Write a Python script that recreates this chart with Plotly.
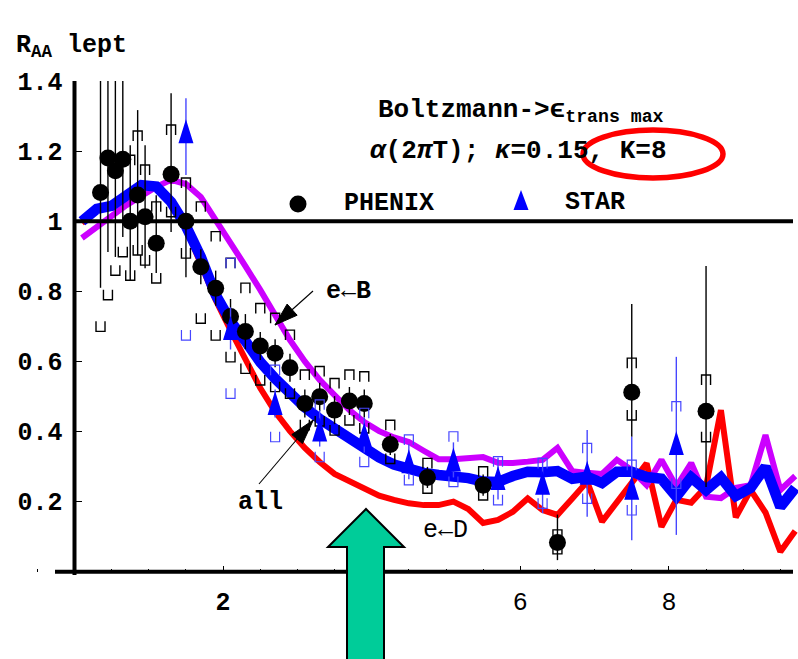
import plotly.graph_objects as go

# ---------------------------------------------------------------- data
pt_grid = [0.1, 0.3, 0.5, 0.7, 0.9, 1.1, 1.3, 1.5, 1.7, 1.9, 2.1, 2.3, 2.5, 2.7, 2.9,
           3.1, 3.3, 3.5, 3.7, 3.9, 4.1, 4.3, 4.5, 4.7, 4.9, 5.1, 5.3, 5.5, 5.7, 5.9,
           6.1, 6.3, 6.5, 6.7, 6.9, 7.1, 7.3, 7.5, 7.7, 7.9, 8.1, 8.3, 8.5, 8.7, 8.9,
           9.1, 9.3, 9.5, 9.7]

raa_all = [1.0, 1.035, 1.044, 1.07, 1.103, 1.099, 1.055, 0.986, 0.898, 0.79, 0.715, 0.658,
           0.598, 0.551, 0.509, 0.469, 0.436, 0.407, 0.377, 0.349, 0.326, 0.306, 0.292,
           0.282, 0.276, 0.273, 0.267, 0.257, 0.256, 0.273, 0.285, 0.284, 0.287, 0.265,
           0.271, 0.253, 0.285, 0.285, 0.27, 0.265, 0.214, 0.269, 0.233, 0.269, 0.216,
           0.239, 0.299, 0.185, 0.239]

raa_eB = [0.952, 0.983, 1.019, 1.046, 1.072, 1.098, 1.118, 1.106, 1.069, 1.005, 0.941, 0.872,
          0.804, 0.73, 0.661, 0.6, 0.547, 0.504, 0.461, 0.427, 0.401, 0.383, 0.37, 0.345,
          0.321, 0.321, 0.324, 0.327, 0.311, 0.31, 0.314, 0.319, 0.353, 0.287, 0.282,
          0.279, 0.319, 0.29, 0.247, 0.319, 0.243, 0.31, 0.214, 0.21, 0.239, 0.247, 0.39,
          0.233, 0.273]

raa_eD = [0.995, 1.03, 1.04, 1.066, 1.10, 1.095, 1.05, 0.98, 0.878, 0.775, 0.689, 0.61,
          0.524, 0.456, 0.401, 0.353, 0.313, 0.279, 0.258, 0.235, 0.217, 0.205, 0.195,
          0.19, 0.19, 0.2, 0.179, 0.139, 0.148, 0.171, 0.209, 0.176, 0.162, 0.209, 0.257,
          0.143, 0.199, 0.253, 0.309, 0.128, 0.205, 0.197, 0.243, 0.461, 0.155, 0.233,
          0.169, 0.057, 0.116]

phenix_pt = [0.35, 0.45, 0.55, 0.65, 0.75, 0.85, 0.95, 1.1, 1.3, 1.5, 1.7, 1.9, 2.1, 2.3,
             2.5, 2.7, 2.9, 3.1, 3.3, 3.5, 3.7, 3.9, 4.25, 4.75, 5.5, 6.5, 7.5, 8.5]
phenix_raa = [1.082, 1.18, 1.144, 1.177, 1.0, 1.075, 1.013, 0.937, 1.134, 1.0, 0.870, 0.809,
              0.728, 0.685, 0.644, 0.623, 0.582, 0.480, 0.499, 0.461, 0.487, 0.480, 0.363,
              0.269, 0.247, 0.083, 0.512, 0.458]
phenix_stat_up = [0.45, 0.4, 0.4, 0.4, 0.217, 0.242, 0.204, 0.137, 0.231, 0.117, 0.05, 0.05,
                  0.05, 0.05, 0.04, 0.04, 0.04, 0.04, 0.04, 0.04, 0.04, 0.04, 0.03, 0.03,
                  0.03, 0.08, 0.252, 0.414]
phenix_stat_dn = [0.272, 0.268, 0.246, 0.222, 0.168, 0.172, 0.147, 0.085, 0.165, 0.16, 0.05,
                  0.05, 0.05, 0.05, 0.04, 0.04, 0.04, 0.04, 0.04, 0.04, 0.04, 0.04, 0.03,
                  0.03, 0.03, 0.05, 0.127, 0.216]
phenix_sys_hi = [None, None, None, None, 1.174, 1.243, 1.146, 1.041, 1.26, 1.109, 1.041,
                 0.956, 0.88, 0.809, 0.751, 0.723, 0.675, 0.561, 0.571, 0.537, 0.561, 0.556,
                 0.418, 0.309, 0.285, 0.105, 0.595, 0.547]
phenix_sys_lo = [0.70, 0.79, 0.86, 0.913, 0.846, 0.918, 0.889, 0.838, 1.027, 0.909, 0.723,
                 0.675, 0.613, 0.580, 0.547, 0.528, 0.509, 0.419, 0.43, 0.404, 0.433, 0.41,
                 0.323, 0.238, 0.219, 0.065, 0.447, 0.385]

star_pt = [1.5, 2.1, 2.7, 3.3, 3.9, 4.5, 5.1, 5.7, 6.3, 6.9, 7.5, 8.1]
star_raa = [1.255, 0.694, 0.480, 0.404, 0.39, 0.314, 0.319, 0.266, 0.252, 0.281, 0.238, 0.366]
star_stat_up = [0.096, 0.06, 0.04, 0.057, 0.05, 0.05, 0.05, 0.06, 0.072, 0.123, 0.147, 0.247]
star_stat_dn = [0.123, 0.06, 0.04, 0.047, 0.05, 0.05, 0.05, 0.06, 0.085, 0.124, 0.148, 0.261]
star_sys_hi = [None, 0.88, 0.575, 0.476, 0.452, 0.376, 0.385, 0.314, 0.309, 0.352, 0.304, 0.471]
star_sys_lo = [0.675, 0.509, 0.385, 0.328, 0.314, 0.262, 0.257, 0.205, 0.195, 0.209, 0.176, 0.252]

y_ticks = [0.2, 0.4, 0.6, 0.8, 1.0, 1.2, 1.4]
y_tick_text = ["0.2", "0.4", "0.6", "0.8", "1", "1.2", "1.4"]
x_ticks = [2, 4, 6, 8]

# ---------------------------------------------------------------- frame geometry
W, H = 798, 659
PX_X0, PX_PER_X = 74.5, 74.3     # pixel column of pT = 0, pixels per GeV
PX_Y0, PX_PER_Y = 571.7, 350.5   # pixel row of R_AA = 0, pixels per unit
Y_TOP = 1.4


def X(px):
    return (px - PX_X0) / PX_PER_X


def Y(py):
    return (PX_Y0 - py) / PX_PER_Y


def dx(n):
    return n / PX_PER_X


def dy(n):
    return n / PX_PER_Y


MONO = "Liberation Mono"
BLUE_LIGHT = "rgb(70,70,255)"

fig = go.Figure()

# ---------------------------------------------------------------- theory curves
fig.add_trace(go.Scatter(x=pt_grid, y=raa_eD, mode="lines",
                         line=dict(color="rgb(255,0,0)", width=6), hoverinfo="skip"))
fig.add_trace(go.Scatter(x=pt_grid, y=raa_eB, mode="lines",
                         line=dict(color="rgb(204,0,255)", width=6), hoverinfo="skip"))
fig.add_trace(go.Scatter(x=pt_grid, y=raa_all, mode="lines",
                         line=dict(color="rgb(0,0,255)", width=10.5), hoverinfo="skip"))


# ---------------------------------------------------------------- systematic brackets
def brackets(xs, vals, opening_down):
    hx, hy = dx(4.5), dy(10)
    bx, by = [], []
    for x, v in zip(xs, vals):
        if v is None:
            continue
        if opening_down:   # cap above the point
            bx += [x - hx, x - hx, x + hx, x + hx, None]
            by += [v - hy / 2, v + hy / 2, v + hy / 2, v - hy / 2, None]
        else:              # cup below the point
            bx += [x - hx, x - hx, x + hx, x + hx, None]
            by += [v + hy / 2, v - hy / 2, v - hy / 2, v + hy / 2, None]
    return bx, by


for vals, down in ((phenix_sys_hi, True), (phenix_sys_lo, False)):
    bx, by = brackets(phenix_pt, vals, down)
    fig.add_trace(go.Scatter(x=bx, y=by, mode="lines", line=dict(color="black", width=1.4),
                             hoverinfo="skip"))

# PHENIX points with statistical bars
fig.add_trace(go.Scatter(
    x=phenix_pt, y=phenix_raa, mode="markers",
    marker=dict(color="black", size=17, line=dict(width=0)),
    error_y=dict(type="data", symmetric=False, array=phenix_stat_up,
                 arrayminus=phenix_stat_dn, width=0, thickness=1.4, color="black"),
    hoverinfo="skip"))

for vals, down in ((star_sys_hi, True), (star_sys_lo, False)):
    bx, by = brackets(star_pt, vals, down)
    fig.add_trace(go.Scatter(x=bx, y=by, mode="lines", line=dict(color=BLUE_LIGHT, width=1.2),
                             hoverinfo="skip"))

# STAR statistical bars
fig.add_trace(go.Scatter(
    x=star_pt, y=star_raa, mode="markers",
    marker=dict(color="rgba(0,0,0,0)", size=1),
    error_y=dict(type="data", symmetric=False, array=star_stat_up,
                 arrayminus=star_stat_dn, width=0, thickness=1.4, color=BLUE_LIGHT),
    hoverinfo="skip"))


# STAR points as tall triangles
def triangles(xs, ys, half_w=7.5, up=12.5, down=11.5):
    tx, ty = [], []
    for x, y in zip(xs, ys):
        tx += [x - dx(half_w), x, x + dx(half_w), x - dx(half_w), None]
        ty += [y - dy(down), y + dy(up), y - dy(down), y - dy(down), None]
    return tx, ty


tx, ty = triangles(star_pt, star_raa)
fig.add_trace(go.Scatter(x=tx, y=ty, mode="lines", fill="toself",
                         fillcolor="rgb(0,0,255)", line=dict(width=0, color="rgb(0,0,255)"),
                         hoverinfo="skip"))

# legend symbols
fig.add_trace(go.Scatter(x=[X(298)], y=[Y(204)], mode="markers",
                         marker=dict(color="black", size=17), hoverinfo="skip"))
tx, ty = triangles([X(521)], [Y(200)], half_w=7.5, up=10, down=10)
fig.add_trace(go.Scatter(x=tx, y=ty, mode="lines", fill="toself",
                         fillcolor="rgb(0,0,255)", line=dict(width=0, color="rgb(0,0,255)"),
                         hoverinfo="skip"))

# ---------------------------------------------------------------- shapes
shapes = [
    # axes and the R_AA = 1 reference line
    dict(type="line", x0=0, x1=0, y0=Y(575), y1=Y_TOP, line=dict(color="black", width=4)),
    dict(type="line", x0=X(55), x1=X(793), y0=0, y1=0, line=dict(color="black", width=4)),
    dict(type="line", x0=0, x1=X(793), y0=1, y1=1, line=dict(color="black", width=4)),
    # highlight around K
    dict(type="circle", x0=X(583), x1=X(723), y0=Y(178), y1=Y(130),
         line=dict(color="rgb(255,0,0)", width=5.5)),
]


def arrow_head(tip, tail, length, half_w):
    (x1, y1), (x0, y0) = tip, tail
    vx, vy = x1 - x0, y1 - y0
    n = (vx ** 2 + vy ** 2) ** 0.5
    ux, uy = vx / n, vy / n
    bx, by = x1 - ux * length, y1 - uy * length
    px_, py_ = -uy * half_w, ux * half_w
    pts = [(x1, y1), (bx + px_, by + py_), (bx - px_, by - py_)]
    return "M " + " L ".join(f"{X(a):.4f},{Y(b):.4f}" for a, b in pts) + " Z"


for tip, tail, ln, hw in (((275, 325), (313, 291), 23, 7.5),
                          ((313.3, 420), (259, 484), 25, 7)):
    shapes.append(dict(type="line", x0=X(tail[0]), y0=Y(tail[1]), x1=X(tip[0]), y1=Y(tip[1]),
                       line=dict(color="black", width=1.1)))
    shapes.append(dict(type="path", path=arrow_head(tip, tail, ln, hw),
                       fillcolor="black", line=dict(color="black", width=1)))

# green marker arrow
arrow_pts = [(347, 700), (347, 547), (328, 547), (366, 509), (404, 547), (384, 547), (384, 700)]
shapes.append(dict(type="path", layer="above",
                   path="M " + " L ".join(f"{X(a):.4f},{Y(b):.4f}" for a, b in arrow_pts) + " Z",
                   fillcolor="rgb(0,204,153)", line=dict(color="black", width=2)))


# ---------------------------------------------------------------- text
def label(text, px, py, size=25, anchor="left", weight="bold"):
    return dict(text=text, x=X(px), y=Y(py), xref="x", yref="y", showarrow=False,
                xanchor=anchor, yanchor="middle",
                font=dict(family=MONO, size=size, color="black", weight=weight))


annotations = [
    dict(text="R<sub>AA</sub> lept", x=14 / W, y=1 - 46 / H, xref="paper", yref="paper",
         showarrow=False, xanchor="left", yanchor="middle",
         font=dict(family=MONO, size=25, color="black", weight="bold")),
    label("Boltzmann->\u03f5<sub>trans max</sub>", 376, 111, size=26),
    label("<i>\u03b1</i>(2<i>\u03c0</i>T); <i>\u03ba</i>=0.15, K=8", 368, 151, size=26),
    label("PHENIX", 342, 203, size=25),
    label("STAR", 563, 202, size=25),
    label("e\u2190B", 324, 291, size=25),
    label("all", 236, 502, size=25),
    label("e\u2190D", 421, 530, size=25, weight="normal"),
]

fig.update_layout(
    width=W, height=H, margin=dict(l=0, r=0, t=0, b=0, pad=0, autoexpand=False),
    paper_bgcolor="white", plot_bgcolor="white", showlegend=False,
    shapes=shapes, annotations=annotations,
    xaxis=dict(range=[X(0), X(W)], domain=[0, 1], anchor="free", position=(H - PX_Y0) / H,
               automargin=False,
               showgrid=False, zeroline=False, showline=False,
               tickvals=x_ticks,
               ticktext=["<b>2</b>", "4", "6", "8"],
               ticks="inside", ticklen=6, tickwidth=1.3, tickcolor="black",
               ticklabelstandoff=12,
               tickfont=dict(family=MONO, size=25, color="black"),
               minor=dict(dtick=0.5, tick0=0, ticks="inside", ticklen=3, tickwidth=1,
                          tickcolor="black", showgrid=False)),
    yaxis=dict(range=[Y(H), Y_TOP], domain=[0, (H - (PX_Y0 - Y_TOP * PX_PER_Y)) / H],
               anchor="free", position=PX_X0 / W, automargin=False,
               showgrid=False, zeroline=False, showline=False,
               tickvals=y_ticks, ticktext=y_tick_text,
               ticks="inside", ticklen=6, tickwidth=1.3, tickcolor="black",
               ticklabelstandoff=12,
               tickfont=dict(family=MONO, size=25, color="black", weight="bold")),
)

fig.write_html("out.html")
